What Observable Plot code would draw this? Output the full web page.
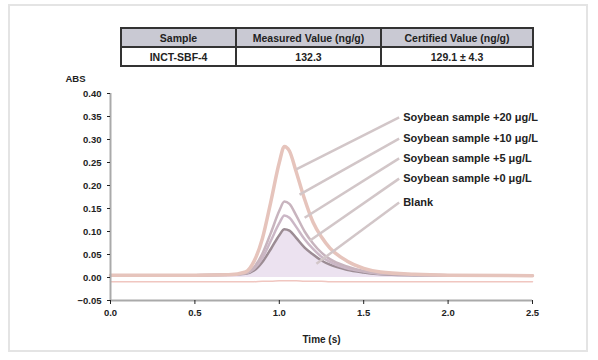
<!DOCTYPE html>
<html><head><meta charset="utf-8">
<script src="https://cdn.jsdelivr.net/npm/d3@7"></script>
<script src="https://cdn.jsdelivr.net/npm/@observablehq/plot@0.6"></script>
<style>
body{margin:0;background:#fff;font-family:"Liberation Sans",Arial,sans-serif;}
#wrap{position:relative;width:598px;height:360px;overflow:hidden;}
#frame{position:absolute;left:8px;top:4px;width:580px;height:348px;border:2px solid #e4e4e4;box-sizing:border-box;}
#tbl{position:absolute;left:120px;top:27px;border-collapse:collapse;border:2px solid #333;font-weight:bold;font-size:10.5px;color:#222;}
#tbl td{border:2px solid #333;text-align:center;padding:0;height:17px;}
#tbl tr.h td{background:#c9c9d3;}
#plot{position:absolute;left:0;top:0;}
</style></head>
<body><div id="wrap"><div id="frame"></div><div id="plot"></div>
<table id="tbl"></table></div>
<script>
const tableHeader = ["Sample", "Measured Value (ng/g)", "Certified Value (ng/g)"];
const tableRow = ["INCT-SBF-4", "132.3", "129.1 ± 4.3"];
const colWidths = [113, 143, 150];

const time = [0, 0.5, 0.7, 0.8, 0.85, 0.9, 0.95, 1.0, 1.03, 1.06, 1.1, 1.15, 1.2, 1.25, 1.3, 1.4, 1.5, 1.6, 1.8, 2.0, 2.5];
const s20 = [0.005,0.005,0.006,0.012,0.035,0.085,0.165,0.25,0.285,0.275,0.23,0.17,0.12,0.088,0.064,0.036,0.02,0.012,0.007,0.005,0.004];
const s10 = [0.005,0.005,0.006,0.009,0.022,0.052,0.097,0.145,0.165,0.16,0.135,0.1,0.074,0.054,0.04,0.024,0.014,0.009,0.006,0.005,0.004];
const s5  = [0.005,0.005,0.006,0.009,0.019,0.042,0.08,0.118,0.135,0.13,0.11,0.083,0.062,0.045,0.034,0.02,0.013,0.008,0.006,0.005,0.004];
const s0  = [0.005,0.005,0.006,0.008,0.015,0.034,0.062,0.092,0.105,0.102,0.086,0.065,0.05,0.037,0.028,0.017,0.011,0.007,0.005,0.005,0.004];
const blank = [-0.009,-0.009,-0.009,-0.009,-0.009,-0.008,-0.008,-0.007,-0.007,-0.007,-0.007,-0.008,-0.008,-0.008,-0.009,-0.009,-0.009,-0.009,-0.009,-0.009,-0.009];

const labels = ["Soybean sample +20 μg/L", "Soybean sample +10 μg/L", "Soybean sample +5 μg/L", "Soybean sample +0 μg/L", "Blank"];
const labelY = [0.348, 0.302, 0.259, 0.215, 0.163];
const labelX = 1.71;
const leaderEndX = [1.10, 1.12, 1.15, 1.18, 1.22];
const leaderEndY = [0.235, 0.18, 0.13, 0.08, 0.03];
const yTicks = [0.40,0.35,0.30,0.25,0.20,0.15,0.10,0.05,0.00,-0.05];
const xTicks = [0.0,0.5,1.0,1.5,2.0,2.5];
const seriesColors = ["#e6c4bc", "#c8b4be", "#cbb7c6", "#9c8c94", "#f0c6c0"];

// table
const tbl = document.getElementById("tbl");
const trh = document.createElement("tr"); trh.className = "h";
tableHeader.forEach((t,i)=>{const td=document.createElement("td");td.textContent=t;td.style.width=colWidths[i]+"px";trh.appendChild(td);});
const trd = document.createElement("tr");
tableRow.forEach((t,i)=>{const td=document.createElement("td");td.textContent=t;trd.appendChild(td);});
tbl.appendChild(trh); tbl.appendChild(trd);

const seriesList = [s20, s10, s5, s0, blank];
const rows = [];
seriesList.forEach((s, k) => s.forEach((v, i) => rows.push({t: time[i], v, k})));
const area0 = time.map((t, i) => ({t, v: s0[i]}));
const leaders = labels.map((l, i) => ({x1: leaderEndX[i], y1: leaderEndY[i], x2: labelX, y2: labelY[i], l}));

const chart = Plot.plot({
  width: 598, height: 360,
  marginTop: 93, marginBottom: 60, marginLeft: 110, marginRight: 66,
  style: {fontFamily: "Liberation Sans, Arial, sans-serif", fontSize: "9.5px", fontWeight: "bold", color: "#222", background: "transparent"},
  x: {domain: [0, 2.5], ticks: xTicks, tickFormat: d3.format(".1f"), label: null, tickSize: 4},
  y: {domain: [-0.05, 0.40], ticks: yTicks, tickFormat: d3.format(".2f"), label: null, tickSize: 3},
  marks: [
    Plot.areaY(area0, {x: "t", y: "v", y1: 0, fill: "#ece2f0", curve: "monotone-x"}),
    Plot.lineY(rows.filter(d => d.k === 4), {x: "t", y: "v", stroke: seriesColors[4], strokeWidth: 1.5, curve: "monotone-x"}),
    ...[3,2,1,0].map(k => Plot.lineY(rows.filter(d => d.k === k), {x: "t", y: "v", stroke: seriesColors[k], strokeWidth: k === 0 ? 3.5 : 2.5, curve: "monotone-x"})),
    Plot.link(leaders, {x1: "x1", y1: "y1", x2: "x2", y2: "y2", stroke: "#d2c6c8", strokeWidth: 2.5}),
    Plot.text(leaders, {x: "x2", y: "y2", text: "l", textAnchor: "start", dx: 4, fontSize: 11, fontWeight: "bold", fill: "#222"}),
    Plot.ruleX([0], {stroke: "#aaa", strokeWidth: 2}),
    Plot.ruleY([-0.05], {stroke: "#aaa", strokeWidth: 2}),
    Plot.axisX({ticks: xTicks, tickFormat: d3.format(".1f"), tickSize: 4, label: null}),
    Plot.axisY({ticks: yTicks, tickFormat: d3.format(".2f"), tickSize: 3, label: null}),
    Plot.text(["ABS"], {frameAnchor: "top-left", dx: -45, dy: -18, fontSize: 9.5, fontWeight: "bold", fill: "#222"}),
    Plot.text(["Time (s)"], {frameAnchor: "bottom", dy: 42, fontSize: 10, fontWeight: "bold", fill: "#222"})
  ]
});
document.getElementById("plot").appendChild(chart);
</script></body></html>
